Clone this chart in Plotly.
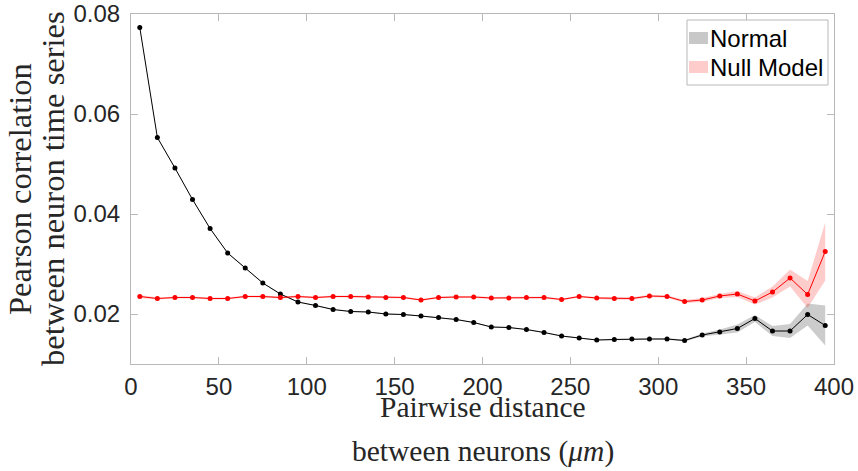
import plotly.graph_objects as go

# ---------------- data ----------------
distance = [5, 15, 25, 35, 45, 55, 65, 75, 85, 95,
            105, 115, 125, 135, 145, 155, 165, 175, 185, 195,
            205, 215, 225, 235, 245, 255, 265, 275, 285, 295,
            305, 315, 325, 335, 345, 355, 365, 375, 385, 395]

normal_mean = [0.0773, 0.0553, 0.0492, 0.0429, 0.0371, 0.0322, 0.0292, 0.0262, 0.0240, 0.0224,
               0.0217, 0.0209, 0.0205, 0.0204, 0.0200, 0.0199, 0.0196, 0.0193, 0.0189, 0.0183,
               0.0174, 0.0173, 0.0169, 0.0163, 0.0156, 0.0152, 0.0148, 0.0149, 0.0150, 0.0150,
               0.0150, 0.0147, 0.0158, 0.0164, 0.0171, 0.0191, 0.0166, 0.0166, 0.0199, 0.0177]

normal_err = [0.0001, 0.0001, 0.0001, 0.0001, 0.0001, 0.0001, 0.0001, 0.0001, 0.0001, 0.0001,
              0.0001, 0.0001, 0.0001, 0.00012, 0.00012, 0.00012, 0.00012, 0.00012, 0.00012, 0.00012,
              0.00012, 0.00012, 0.00012, 0.00012, 0.00012, 0.00012, 0.00012, 0.00015, 0.00015, 0.00015,
              0.00015, 0.0002, 0.0003, 0.0005, 0.0008, 0.0007, 0.001, 0.0014, 0.0022, 0.004]

null_mean = [0.0235, 0.0231, 0.0233, 0.0233, 0.0231, 0.0231, 0.0235, 0.0235, 0.0233, 0.0235,
             0.0233, 0.0235, 0.0235, 0.0234, 0.0233, 0.0233, 0.0228, 0.0233, 0.0234, 0.0234,
             0.0232, 0.0232, 0.0233, 0.0233, 0.0229, 0.0235, 0.0232, 0.0231, 0.0231, 0.0236,
             0.0235, 0.0225, 0.0228, 0.0236, 0.0240, 0.0226, 0.0244, 0.0272, 0.0239, 0.0325]

null_err = [0.0003, 0.0002, 0.0002, 0.0002, 0.0002, 0.0002, 0.0002, 0.0002, 0.0002, 0.0002,
            0.0002, 0.0002, 0.0002, 0.0002, 0.0002, 0.0002, 0.0002, 0.0002, 0.0002, 0.0002,
            0.0002, 0.0002, 0.0002, 0.0002, 0.0002, 0.0002, 0.0002, 0.00027, 0.00027, 0.00027,
            0.00027, 0.0003, 0.0004, 0.0004, 0.0006, 0.0007, 0.0011, 0.0017, 0.0027, 0.0058]

x_ticks = [0, 50, 100, 150, 200, 250, 300, 350, 400]
y_ticks = [0.02, 0.04, 0.06, 0.08]
y_tick_labels = ["0.02", "0.04", "0.06", "0.08"]

series_names = ["Normal", "Null Model"]

# ---------------- figure ----------------
fig = go.Figure()


def add_band(mean, err, fillcolor):
    upper = [m + e for m, e in zip(mean, err)]
    lower = [m - e for m, e in zip(mean, err)]
    fig.add_trace(go.Scatter(x=distance, y=upper, mode="lines", line=dict(width=0),
                             hoverinfo="skip", showlegend=False))
    fig.add_trace(go.Scatter(x=distance, y=lower, mode="lines", line=dict(width=0),
                             fill="tonexty", fillcolor=fillcolor,
                             hoverinfo="skip", showlegend=False))


add_band(normal_mean, normal_err, "rgba(0,0,0,0.2)")
add_band(null_mean, null_err, "rgba(255,0,0,0.2)")

fig.add_trace(go.Scatter(x=distance, y=normal_mean, mode="lines+markers",
                         line=dict(color="black", width=1),
                         marker=dict(color="black", size=5),
                         name=series_names[0], showlegend=False))
fig.add_trace(go.Scatter(x=distance, y=null_mean, mode="lines+markers",
                         line=dict(color="#ff0000", width=1),
                         marker=dict(color="#ff0000", size=5),
                         name=series_names[1], showlegend=False))

# plot-area geometry in pixels
W, H = 858, 471
L, R, T, B = 131, 24, 14, 107
pw, ph = W - L - R, H - T - B


def px_x(p):
    return (p - L) / pw


def px_y(p):
    return (H - B - p) / ph


axis_color = "#b8b8b8"
tick_font = dict(family="Liberation Sans, Arial, sans-serif", size=24, color="#262626")

fig.update_layout(
    width=W, height=H,
    margin=dict(l=L, r=R, t=T, b=B, pad=0, autoexpand=False),
    paper_bgcolor="white", plot_bgcolor="white",
    showlegend=False,
    xaxis=dict(range=[0, 400], tickvals=x_ticks, ticks="inside", ticklen=7,
               tickcolor=axis_color, showline=True, linecolor=axis_color, linewidth=1,
               mirror="allticks", showgrid=False, zeroline=False, tickfont=tick_font,
               ticklabelstandoff=1, automargin=False),
    yaxis=dict(range=[0.01, 0.08], tickvals=y_ticks, ticktext=y_tick_labels,
               ticks="inside", ticklen=7,
               tickcolor=axis_color, showline=True, linecolor=axis_color, linewidth=1,
               mirror="allticks", showgrid=False, zeroline=False, tickfont=tick_font,
               ticklabelstandoff=5, automargin=False),
)

title_font_x = dict(family="Liberation Serif, Times New Roman, serif", size=29.5, color="#262626")
title_font_y = dict(family="Liberation Serif, Times New Roman, serif", size=32.5, color="#262626")

annotations = [
    dict(text="Pairwise distance", x=0.5, y=px_y(407), xref="paper", yref="paper",
         xanchor="center", yanchor="middle", showarrow=False, font=title_font_x),
    dict(text="between neurons (<i>μm</i>)", x=0.5, y=px_y(452), xref="paper", yref="paper",
         xanchor="center", yanchor="middle", showarrow=False, font=title_font_x),
    dict(text="Pearson correlation", x=px_x(20), y=0.5, xref="paper", yref="paper",
         xanchor="center", yanchor="middle", textangle=-90, showarrow=False, font=title_font_y),
    dict(text="between neuron time series", x=px_x(53), y=0.5, xref="paper", yref="paper",
         xanchor="center", yanchor="middle", textangle=-90, showarrow=False, font=title_font_y),
]

# manual legend (box, swatches, labels)
legend_font = dict(family="Liberation Sans, Arial, sans-serif", size=24, color="black")
shapes = [
    dict(type="rect", xref="paper", yref="paper", x0=px_x(687), x1=px_x(828),
         y0=px_y(85), y1=px_y(20), line=dict(color=axis_color, width=1), fillcolor="white",
         layer="above"),
    dict(type="rect", xref="paper", yref="paper", x0=px_x(689), x1=px_x(708),
         y0=px_y(44), y1=px_y(32), line=dict(width=0), fillcolor="#c8c8c8", layer="above"),
    dict(type="rect", xref="paper", yref="paper", x0=px_x(689), x1=px_x(708),
         y0=px_y(73), y1=px_y(61), line=dict(width=0), fillcolor="#ffcccc", layer="above"),
]
annotations += [
    dict(text=series_names[0], x=px_x(708), y=px_y(38.5), xref="paper", yref="paper",
         xanchor="left", yanchor="middle", showarrow=False, font=legend_font),
    dict(text=series_names[1], x=px_x(708), y=px_y(67), xref="paper", yref="paper",
         xanchor="left", yanchor="middle", showarrow=False, font=legend_font),
]

fig.update_layout(annotations=annotations, shapes=shapes)

fig.write_html("out.html", config={"displayModeBar": False},
               post_script="document.body.style.margin='0';document.body.style.overflow='hidden';")
